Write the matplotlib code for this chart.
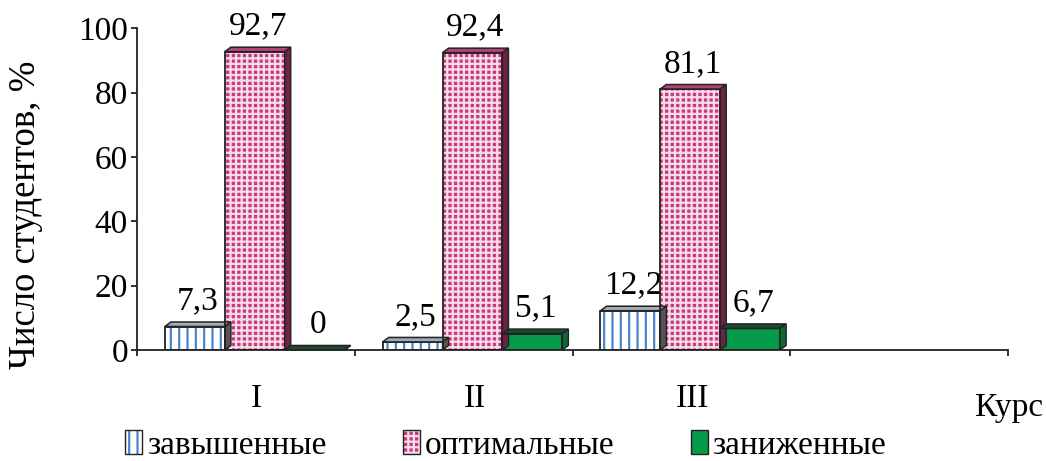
import matplotlib
matplotlib.use("Agg")
import matplotlib.pyplot as plt
from matplotlib.patches import Polygon, Patch

# Данные: доля студентов по уровню самооценки, %
courses = ['I', 'II', 'III']
levels = ['завышенные', 'оптимальные', 'заниженные']
overrated = [7.3, 2.5, 12.2]
optimal = [92.7, 92.4, 81.1]
underrated = [0, 5.1, 6.7]
values = [overrated, optimal, underrated]

plt.rcParams['font.family'] = ['Liberation Serif', 'DejaVu Serif']
plt.rcParams['hatch.linewidth'] = 1.6

fig = plt.figure(figsize=(10.46, 4.61), dpi=100)
ax = fig.add_axes([0.131, 0.2408, 0.8327, 0.698])

# стиль каждой серии: лицевая грань, штриховка, верх, бок
styles = [
    dict(face='white', hatch='||', hcolor='#4a86d0', top='#a3abb8', side='#555555'),
    dict(face='#c83a7e', hatch='+++', hcolor='#f6dbe8', top='#b8407a', side='#6b2444'),
    dict(face='#05994a', hatch=None, hcolor='#05994a', top='#1d4a2c', side='#0a6b34'),
]

width = 0.275
start = 0.128
dx, dy = 0.028, 1.4   # глубина объёмных столбиков

for k, (vals, st) in enumerate(zip(values, styles)):
    xs = [i + start + k * width for i in range(len(courses))]
    ax.bar(xs, vals, width=width, align='edge', color=st['face'],
           hatch=st['hatch'], edgecolor=st['hcolor'], linewidth=0, zorder=2)
    ax.bar(xs, vals, width=width, align='edge', fill=False,
           edgecolor='#222222', linewidth=1.3, zorder=3)
    for x, v in zip(xs, vals):
        top = Polygon([(x, v), (x + dx, v + dy), (x + width + dx, v + dy), (x + width, v)],
                      closed=True, facecolor=st['top'], edgecolor='#222222',
                      linewidth=1.1, zorder=3, clip_on=False)
        side = Polygon([(x + width, 0), (x + width + dx, dy), (x + width + dx, v + dy), (x + width, v)],
                       closed=True, facecolor=st['side'], edgecolor='#222222',
                       linewidth=1.0, zorder=3, clip_on=False)
        ax.add_patch(top)
        ax.add_patch(side)
        label = ('%g' % v).replace('.', ',')
        ax.annotate(label, (x + width / 2 + dx / 2, v + dy), xytext=(0, 4),
                    textcoords='offset points', ha='center', va='bottom', fontsize=24)

ax.set_xlim(0, 4)
ax.set_ylim(0, 100)
ax.set_yticks(range(0, 101, 20))
ax.set_xticks(range(0, 5))
ax.set_xticklabels([])
ax.tick_params(axis='both', direction='out', length=4.5, width=1.3, color='#222222')
ax.tick_params(axis='y', labelsize=24, pad=2)
for s in ['top', 'right']:
    ax.spines[s].set_visible(False)
for s in ['left', 'bottom']:
    ax.spines[s].set_linewidth(1.3)
    ax.spines[s].set_color('#222222')

for i, c in enumerate(courses):
    ax.text(i + 0.55, -0.15, c, transform=ax.get_xaxis_transform(),
            ha='center', va='center', fontsize=24)

ax.set_ylabel('Число студентов, %', fontsize=26.5, va='center')
ax.yaxis.set_label_coords(-0.128, 0.42)
fig.text(0.932, 0.115, 'Курс', ha='left', va='center', fontsize=24)

# значок легенды: заливка со штриховкой + тёмная рамка поверх
handles = [(Patch(facecolor=st['face'], hatch=st['hatch'], edgecolor=st['hcolor'], linewidth=0),
            Patch(fill=False, edgecolor='#222222', linewidth=1))
           for st in styles]
fig.legend(handles, levels, loc='lower left', bbox_to_anchor=(0.091, -0.064), ncol=3,
           frameon=False, fontsize=24, handlelength=0.5, handleheight=0.75,
           handletextpad=0.15, columnspacing=2.3)

fig.savefig('out.png', dpi=100)
